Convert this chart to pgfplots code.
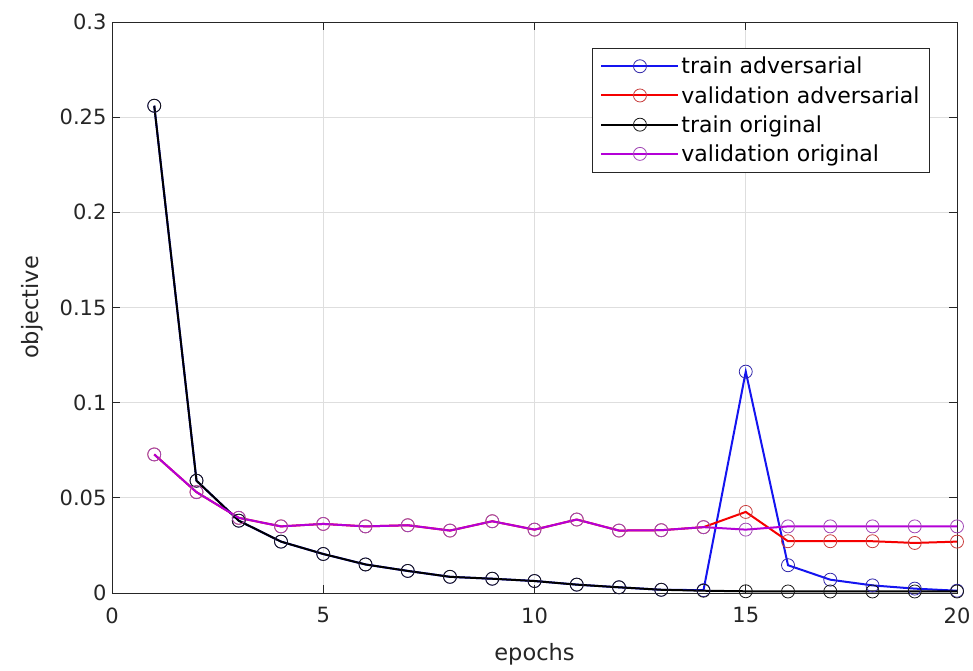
\documentclass[border=0pt]{standalone}
\usepackage{fontspec}
\setmainfont{DejaVu Sans}
\usepackage{pgfplots}
\pgfplotsset{compat=1.18}

\definecolor{axgray}{RGB}{38,38,38}
\definecolor{gridgray}{RGB}{222,222,222}
\definecolor{tadv}{RGB}{20,20,240}
\definecolor{tadvm}{RGB}{50,40,170}
\definecolor{vadv}{RGB}{245,0,0}
\definecolor{vadvm}{RGB}{200,60,60}
\definecolor{torig}{RGB}{0,0,0}
\definecolor{torigm}{RGB}{20,20,20}
\definecolor{vorig}{RGB}{180,0,215}
\definecolor{vorigm}{RGB}{160,70,180}

\pgfplotsset{
  ser/.style 2 args={draw=#1, line width=2pt, mark=o, mark size=6.5pt,
    mark options={draw=#2, line width=0.8pt, solid}},
}

\begin{document}
\begin{tikzpicture}
% fixed page frame around the axis box
\path[use as bounding box] (-112pt,-77pt) rectangle (861pt,593pt);
\begin{axis}[
  at={(0pt,0pt)}, anchor=south west,
  scale only axis,
  width=845pt, height=571pt,
  xmin=0, xmax=20, ymin=0, ymax=0.3,
  xtick={0,5,10,15,20},
  ytick={0,0.05,0.1,0.15,0.2,0.25,0.3},
  yticklabels={0,0.05,0.1,0.15,0.2,0.25,0.3},
  /pgf/number format/assume math mode=true,
  tick label style={font=\fontsize{21}{24}\selectfont, text=axgray},
  yticklabel style={xshift=-2pt},
  xticklabel style={yshift=-11pt},
  label style={font=\fontsize{22.5}{26}\selectfont, text=axgray},
  xlabel={epochs}, ylabel={objective},
  xlabel style={yshift=-13pt},
  ylabel style={yshift=10pt},
  grid=major,
  major grid style={gridgray, line width=0.8pt},
  axis line style={axgray, line width=0.9pt},
  tick style={axgray, line width=0.9pt},
  tick align=inside,
  major tick length=8pt,
  legend style={
    at={(rel axis cs:0.968,0.955)}, anchor=north east,
    font=\fontsize{22}{25}\selectfont,
    draw=axgray, line width=0.9pt,
    inner xsep=8pt, inner ysep=7pt,
    row sep=7pt,
    legend cell align=left,
  },
  legend image code/.code={
    \draw[#1, mark=none, line width=2pt] (0pt,0pt) -- (77pt,0pt);
    \draw[#1, only marks] plot coordinates {(38.5pt,0pt)};
  },
]

% train adversarial
\addplot[ser={tadv}{tadvm}] coordinates {
  (1,0.256) (2,0.059) (3,0.038) (4,0.027) (5,0.0205) (6,0.015) (7,0.0116)
  (8,0.0085) (9,0.0075) (10,0.0063) (11,0.0044) (12,0.003) (13,0.0017)
  (14,0.0015) (15,0.1163) (16,0.0146) (17,0.007) (18,0.004) (19,0.0023) (20,0.0012)
};
\addlegendentry{train adversarial}

% validation adversarial
\addplot[ser={vadv}{vadvm}] coordinates {
  (1,0.0728) (2,0.053) (3,0.0395) (4,0.035) (5,0.0363) (6,0.035) (7,0.0356)
  (8,0.0328) (9,0.0377) (10,0.0333) (11,0.0386) (12,0.0328) (13,0.033)
  (14,0.0346) (15,0.0426) (16,0.0272) (17,0.0272) (18,0.0272) (19,0.0263) (20,0.027)
};
\addlegendentry{validation adversarial}

% train original
\addplot[ser={torig}{torigm}] coordinates {
  (1,0.256) (2,0.059) (3,0.038) (4,0.027) (5,0.0205) (6,0.015) (7,0.0116)
  (8,0.0085) (9,0.0075) (10,0.0063) (11,0.0044) (12,0.003) (13,0.0017)
  (14,0.0012) (15,0.0009) (16,0.0008) (17,0.0008) (18,0.0008) (19,0.0008) (20,0.0008)
};
\addlegendentry{train original}

% validation original
\addplot[ser={vorig}{vorigm}] coordinates {
  (1,0.0728) (2,0.053) (3,0.0395) (4,0.035) (5,0.0363) (6,0.035) (7,0.0356)
  (8,0.0328) (9,0.0377) (10,0.0333) (11,0.0386) (12,0.0328) (13,0.033)
  (14,0.0346) (15,0.0333) (16,0.035) (17,0.035) (18,0.035) (19,0.035) (20,0.035)
};
\addlegendentry{validation original}

\end{axis}
\end{tikzpicture}
\end{document}
